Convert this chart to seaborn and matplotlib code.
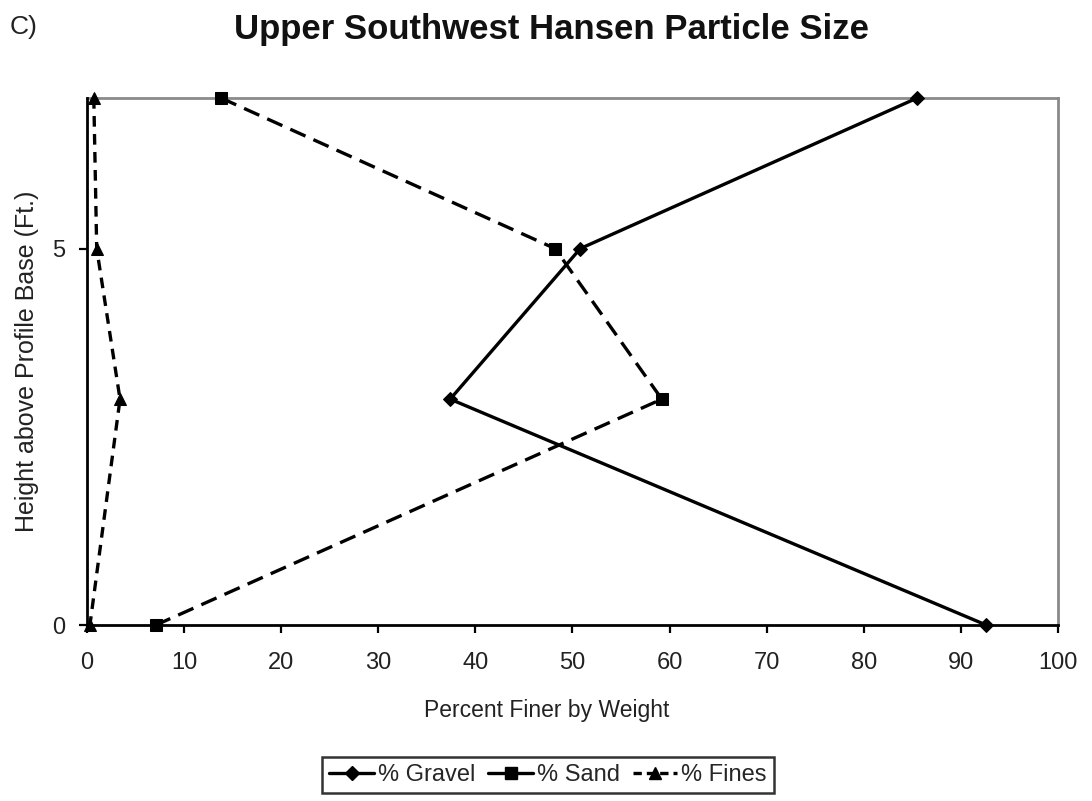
import matplotlib
matplotlib.use("Agg")
import matplotlib.pyplot as plt
import seaborn as sns
import pandas as pd
from matplotlib.lines import Line2D

# Sampled heights above the profile base (ft)
height_ft = [7, 5, 3, 0]

# Percent finer by weight at each height
gravel_pct = [85.5, 50.8, 37.4, 92.6]
sand_pct = [13.8, 48.2, 59.2, 7.1]
fines_pct = [0.7, 1.0, 3.4, 0.3]

series_names = ["% Gravel", "% Sand", "% Fines"]
x_ticks = [0, 10, 20, 30, 40, 50, 60, 70, 80, 90, 100]
y_ticks = [0, 5]

sns.set_theme(style="white")
plt.rcParams["font.family"] = ["Liberation Sans", "DejaVu Sans"]

W, H = 1092, 801
fig = plt.figure(figsize=(W / 100, H / 100), dpi=100)
ax = fig.add_axes([87 / W, 1 - 625 / H, (1058 - 87) / W, (625 - 98) / H])

styles = {
    "% Gravel": dict(marker="D", markersize=7, dashes=None),
    "% Sand": dict(marker="s", markersize=9, dashes=(5, 2.6)),
    "% Fines": dict(marker="^", markersize=8, dashes=(3.2, 2.2)),
}
values = {"% Gravel": gravel_pct, "% Sand": sand_pct, "% Fines": fines_pct}

for name in series_names:
    df = pd.DataFrame({"pct": values[name], "height": height_ft})
    st = styles[name]
    sns.lineplot(data=df, x="pct", y="height", sort=False, estimator=None,
                 color="black", linewidth=2.4, marker=st["marker"],
                 markersize=st["markersize"], markeredgecolor="black",
                 markerfacecolor="black", ax=ax, label=name, legend=False)
    line = ax.lines[-1]
    if st["dashes"] is not None:
        line.set_dashes(st["dashes"])
    line.set_clip_on(False)
    line.set_zorder(5)

ax.set_xlim(0, 100)
ax.set_ylim(0, 7)
ax.set_xticks(x_ticks)
ax.set_yticks(y_ticks)
ax.tick_params(axis="x", direction="out", length=6, width=1.6, pad=13.5,
               labelsize=17, colors="black", bottom=True)
ax.tick_params(axis="y", direction="out", length=6, width=1.6, pad=10,
               labelsize=17, colors="black", left=True)
for lbl in ax.get_xticklabels() + ax.get_yticklabels():
    lbl.set_color("#222222")

for side in ["left", "bottom"]:
    ax.spines[side].set_color("black")
    ax.spines[side].set_linewidth(2.0)
    ax.spines[side].set_zorder(4)
for side in ["top", "right"]:
    ax.spines[side].set_color("#8a8a8a")
    ax.spines[side].set_linewidth(2.0)

ax.set_xlabel("")
ax.set_ylabel("Height above Profile Base (Ft.)", fontsize=18,
              color="#222222", labelpad=9)
fig.text(547 / W, 1 - 710 / H, "Percent Finer by Weight", ha="center",
         va="center", fontsize=16.5, color="#222222")

fig.text(551 / W, 1 - 29 / H, "Upper Southwest Hansen Particle Size",
         ha="center", va="center", fontsize=25, fontweight="bold",
         color="#111111")
fig.text(10 / W, 1 - 27 / H, "C)", ha="left", va="center", fontsize=19,
         color="#222222")

handles = [
    Line2D([], [], color="black", lw=2.4, marker="D", markersize=7),
    Line2D([], [], color="black", lw=2.4, marker="s", markersize=9),
    Line2D([], [], color="black", lw=2.4, marker="^", markersize=8,
           dashes=(2.5, 1.5)),
]
leg = fig.legend(handles, series_names, loc="center",
                 bbox_to_anchor=(548 / W, 1 - 775 / H), ncol=3, frameon=True,
                 fontsize=17, handlelength=1.9, handletextpad=0.15,
                 columnspacing=0.55, borderpad=0.3, fancybox=False)
leg.get_frame().set_edgecolor("black")
leg.get_frame().set_linewidth(1.8)

fig.savefig("out.png", dpi=100)
